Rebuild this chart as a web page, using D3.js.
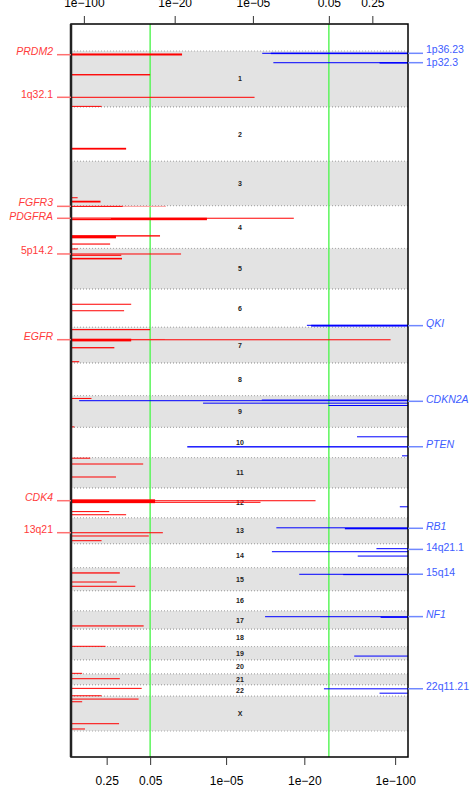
<!DOCTYPE html>
<html>
<head>
<meta charset="utf-8">
<title>GISTIC q-values: amplifications and deletions</title>
<script src="https://cdn.jsdelivr.net/npm/d3@7"></script>
<style>
  body { margin: 0; background: #fff; }
  svg text { font-family: "Liberation Sans", Arial, sans-serif; }
  .chr { font-size: 7px; font-weight: bold; fill: #222; }
  .axis text { font-size: 12px; fill: #000; }
  .axis line { stroke: #333; }
  .peak { font-size: 10.5px; }
</style>
</head>
<body>
<svg id="chart" width="471" height="788"></svg>
<script>
// chromosomes (hg19 lengths, Mb)
var chromosomes = ["1","2","3","4","5","6","7","8","9","10","11","12","13","14","15","16","17","18","19","20","21","22","X"];
var chromLengthsMb = [249.25,243.2,198.0,191.15,180.9,171.1,159.1,146.4,141.2,135.5,135.0,133.85,115.2,107.35,102.5,90.35,81.2,78.1,59.1,63.0,48.1,51.3,155.3];

// axis ticks (q-values)
var tickQ = [0.25, 0.05, 1e-5, 1e-20, 1e-100];
var tickLabels = ["0.25", "0.05", "1e\u221205", "1e\u221220", "1e\u2212100"];
var thresholdQ = 0.05;

// segments: [chromosome, start Mb, end Mb, -log10(q)]
var ampSegments = [
  ["1", 11, 20, 2.29], ["1", 103, 109, 1.30], ["1", 204.5, 208.5, 8.28], ["1", 245, 249.2, 0.55],
  ["2", 183, 191, 0.85],
  ["3", 160.5, 164, 0.36], ["3", 176, 184, 0.54],
  ["4", 1, 5, 0.80], ["4", 54, 65, 3.56], ["4", 54, 57.5, 16.6], ["4", 132, 138, 1.55], ["4", 134, 146, 0.71], ["4", 169, 174, 0.64],
  ["5", 0, 3.5, 0.36], ["5", 22.5, 26.5, 2.25], ["5", 28, 33, 0.78], ["5", 42, 49, 0.79],
  ["6", 66, 70.5, 0.93], ["6", 95, 99, 0.82],
  ["7", 8, 13, 1.30], ["7", 51, 63, 0.93], ["7", 53.5, 57.5, 92.3], ["7", 88.5, 94, 0.69], ["7", 151.5, 156, 0.37],
  ["9", 10, 13.5, 0.46], ["9", 137, 140, 0.34],
  ["11", 0, 3, 0.45], ["11", 26, 30, 1.15], ["11", 84, 88, 0.71],
  ["12", 51, 68, 1.42], ["12", 55, 59, 24.4], ["12", 62, 66, 9.2], ["12", 103.5, 108, 0.63], ["12", 117.5, 122, 0.85],
  ["13", 64, 68.5, 1.63], ["13", 78.5, 83, 1.27], ["13", 99.5, 104, 0.55],
  ["15", 20.5, 26, 0.76], ["15", 61.5, 65.5, 0.72], ["15", 80.5, 85, 1.0],
  ["17", 64.5, 69.5, 1.16],
  ["18", 74.5, 78.1, 0.59],
  ["20", 58, 62, 0.39],
  ["21", 19, 23, 0.76],
  ["22", 14, 18, 1.12], ["22", 47, 51, 0.55],
  ["X", 10.5, 14.5, 1.06], ["X", 22.5, 26.5, 0.39], ["X", 120.5, 125, 0.75], ["X", 144, 148.5, 0.41]
];
// lighter (residual) parts, under and over the main curve
var ampResidualUnder = [["4", 1, 5, 1.72], ["7", 52, 56, 1.69]];
var ampResidualOver = [["4", 53, 56, 0.65]];

var delSegments = [
  ["1", 8, 12, 4.24], ["1", 7.5, 14, 3.64], ["1", 50, 54.5, 3.48], ["1", 49.5, 56, 0.53],
  ["6", 160, 164, 1.92], ["6", 160, 168, 1.78],
  ["9", 17, 21, 4.27], ["9", 20, 24.5, 108.7], ["9", 31, 34.5, 12.1], ["9", 41.5, 45, 1.31],
  ["10", 40, 44, 0.79], ["10", 84, 90, 16.0], ["10", 125, 129.5, 0.356],
  ["12", 82, 86, 0.37],
  ["13", 42, 46, 3.3], ["13", 45, 51, 0.98],
  ["14", 20, 24.5, 0.56], ["14", 33.5, 38, 3.57], ["14", 53, 57, 0.78],
  ["15", 27, 31, 2.2], ["15", 28, 33, 1.01],
  ["17", 23.5, 27.5, 4.03], ["17", 25, 31, 0.52],
  ["19", 40, 44, 0.83],
  ["22", 16, 20.5, 1.42], ["22", 35.5, 39.5, 0.53]
];

// peak labels: [name, chromosome, Mb]
var ampPeakLabels = [["PRDM2","1",16.5],["1q32.1","1",206.7],["FGFR3","4",3.1],["PDGFRA","4",56.5],
  ["5p14.2","5",24.6],["EGFR","7",55.4],["CDK4","12",57.1],["13q21","13",66.1]];
var delPeakLabels = [["1p36.23","1",10.3],["1p32.3","1",52.2],["QKI","6",163.8],["CDKN2A","9",25],
  ["PTEN","10",86.6],["RB1","13",46.4],["14q21.1","14",25.4],["15q14","15",29],["NF1","17",25.4],["22q11.21","22",17.9]];

var box = {left: 71, right: 408, top: 24, bottom: 757};
var svg = d3.select("#chart");

var offsets = {};
var total = 0;
chromosomes.forEach(function (c, i) { offsets[c] = total; total += chromLengthsMb[i]; });

var y = d3.scaleLinear().domain([0, total]).range([51, 731]);
var ampX = d3.scaleLog().domain([0.32, 125.6]).range([box.left, box.right]);
var delX = d3.scaleLog().domain([0.32, 125.6]).range([box.right, box.left]);
function gy(c, mb) { return y(offsets[c] + mb); }
function isCytoband(s) { return /^(\d+|X|Y)[pq]\d/.test(s); }

// chromosome bands
var bands = svg.append("g");
chromosomes.forEach(function (c, i) {
  var y0 = y(offsets[c]), y1 = y(offsets[c] + chromLengthsMb[i]);
  if (i % 2 === 0) {
    bands.append("rect").attr("x", box.left).attr("width", box.right - box.left)
      .attr("y", y0).attr("height", y1 - y0).attr("fill", "#e3e3e3");
  }
  [y0, y1].forEach(function (yy) {
    bands.append("line").attr("x1", box.left).attr("x2", box.right).attr("y1", yy).attr("y2", yy)
      .attr("stroke", "#aaa").attr("stroke-width", 1).attr("stroke-dasharray", "1,2");
  });
  bands.append("text").attr("class", "chr").attr("x", 240).attr("y", (y0 + y1) / 2 + 2.5)
    .attr("text-anchor", "middle").text(c);
});

// threshold lines
var qThr = -Math.log10(thresholdQ);
[ampX(qThr), delX(qThr)].forEach(function (xx) {
  svg.append("line").attr("x1", xx).attr("x2", xx).attr("y1", box.top).attr("y2", box.bottom)
    .attr("stroke", "#5cf55c").attr("stroke-width", 1.5);
});

function drawSegs(data, amp, color) {
  svg.append("g").selectAll("rect").data(data).enter().append("rect")
    .attr("x", function (d) { return amp ? box.left : delX(d[3]); })
    .attr("width", function (d) { return amp ? ampX(d[3]) - box.left : box.right - delX(d[3]); })
    .attr("y", function (d) { return gy(d[0], d[1]); })
    .attr("height", function (d) { return Math.max(1, gy(d[0], d[2]) - gy(d[0], d[1])); })
    .attr("fill", color);
}
drawSegs(ampResidualUnder, true, "#ff9a9a");
drawSegs(ampSegments, true, "#ff0000");
drawSegs(ampResidualOver, true, "#ff8c8c");
drawSegs(delSegments, false, "#0000ff");

// frame
svg.append("rect").attr("x", box.left).attr("y", box.top)
  .attr("width", box.right - box.left).attr("height", box.bottom - box.top)
  .attr("fill", "none").attr("stroke", "#000").attr("stroke-width", 1.5);
svg.append("line").attr("x1", box.left).attr("x2", box.left).attr("y1", box.top).attr("y2", box.bottom)
  .attr("stroke", "#222").attr("stroke-width", 2.5);

// axes
var tickScores = tickQ.map(function (q) { return -Math.log10(q); });
var bottomAxis = d3.axisBottom(ampX).tickValues(tickScores)
  .tickFormat(function (d, i) { return tickLabels[i]; }).tickSize(8).tickPadding(11.5);
var topAxis = d3.axisTop(delX).tickValues(tickScores)
  .tickFormat(function (d, i) { return tickLabels[i]; }).tickSize(8).tickPadding(9);
svg.append("g").attr("class", "axis").attr("transform", "translate(0," + box.bottom + ")")
  .call(bottomAxis).call(function (g) { g.select(".domain").remove(); });
svg.append("g").attr("class", "axis").attr("transform", "translate(0," + box.top + ")")
  .call(topAxis).call(function (g) { g.select(".domain").remove(); });
svg.selectAll(".axis text").attr("font-family", null).attr("font-size", null);

// spread label text positions so that neighbours do not collide
function spread(ys, gap) {
  var order = ys.map(function (v, i) { return i; }).sort(function (a, b) { return ys[a] - ys[b]; });
  var out = ys.slice();
  for (var it = 0; it < 60; it++) {
    for (var k = 1; k < order.length; k++) {
      var a = order[k - 1], b = order[k], d = out[b] - out[a];
      if (d < gap) { out[a] -= (gap - d) / 2; out[b] += (gap - d) / 2; }
    }
  }
  return out;
}

var lab = svg.append("g");
function drawLabels(list, left) {
  var lineY = list.map(function (d) { return gy(d[1], d[2]); });
  var textY = spread(lineY.map(function (v) { return v + (left ? 0.5 : 1.5); }), 13.6);
  list.forEach(function (d, i) {
    lab.append("line")
      .attr("x1", left ? 57 : box.right).attr("x2", left ? box.left : 423)
      .attr("y1", lineY[i]).attr("y2", lineY[i])
      .attr("stroke", left ? "#ff7070" : "#7088ff").attr("stroke-width", 1.5);
    lab.append("text").attr("class", "peak")
      .attr("x", left ? 53 : 426).attr("y", textY[i])
      .attr("text-anchor", left ? "end" : "start")
      .attr("fill", left ? "#ff3b3b" : "#3d5cff")
      .attr("font-style", isCytoband(d[0]) ? "normal" : "italic").text(d[0]);
  });
}
drawLabels(ampPeakLabels, true);
drawLabels(delPeakLabels, false);
</script>
</body>
</html>
